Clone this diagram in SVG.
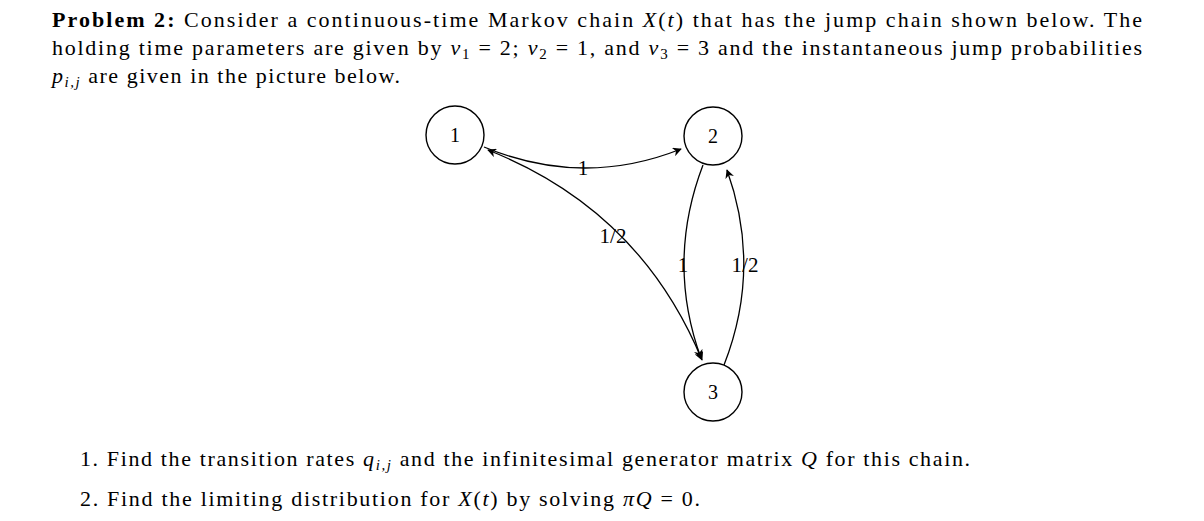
<svg xmlns="http://www.w3.org/2000/svg" width="1204" height="521" viewBox="0 0 1204 521">
<defs>
<marker id="ah" viewBox="0 0 10 10" refX="9" refY="5" markerWidth="9" markerHeight="9" orient="auto-start-reverse" markerUnits="userSpaceOnUse">
<path d="M0,0 L10,5 L0,10 L3,5 Z" fill="#000"/>
</marker>
</defs>
<style>
text{font-family:"Liberation Serif","DejaVu Serif",serif;fill:#000}
.t{font-size:22px}
.n{font-size:20px;text-anchor:middle}
.l{font-size:21px;text-anchor:middle}
.i{font-style:italic}
circle{fill:#fff;stroke:#000;stroke-width:1.4}
.e{fill:none;stroke:#000;stroke-width:1.3}
</style>
<rect width="1204" height="521" fill="#fff"/>
<text class="t" x="52" y="27" textLength="1090" lengthAdjust="spacing"><tspan font-weight="bold">Problem 2:</tspan> Consider a continuous-time Markov chain <tspan class="i">X</tspan>(<tspan class="i">t</tspan>) that has the jump chain shown below. The</text>
<text class="t" x="52" y="55" textLength="1090" lengthAdjust="spacing">holding time parameters are given by <tspan class="i">v</tspan><tspan font-size="15" dy="4">1</tspan><tspan dy="-4"> = 2; </tspan><tspan class="i">v</tspan><tspan font-size="15" dy="4">2</tspan><tspan dy="-4"> = 1, and </tspan><tspan class="i">v</tspan><tspan font-size="15" dy="4">3</tspan><tspan dy="-4"> = 3 and the instantaneous jump probabilities</tspan></text>
<text class="t" x="52" y="83" textLength="348" lengthAdjust="spacing"><tspan class="i">p</tspan><tspan class="i" font-size="15" dy="4">i,j</tspan><tspan dy="-4"> are given in the picture below.</tspan></text>
<g id="edges">
<path class="e" d="M484,147 Q583,188 681,149" marker-end="url(#ah)"/>
<path class="e" d="M488,150 Q640,210 702,360" marker-start="url(#ah)" marker-end="url(#ah)"/>
<path class="e" d="M703,165 Q666,262 701,358" marker-end="url(#ah)"/>
<path class="e" d="M724,365 Q762,268 727,170" marker-end="url(#ah)"/>
<text class="l" x="583" y="175">1</text>
<text class="l" x="613" y="243">1/2</text>
<text class="l" x="683" y="272">1</text>
<text class="l" x="745" y="272">1/2</text>
</g>
<g id="node1"><circle cx="455" cy="135" r="29"/><text class="n" x="455" y="142">1</text></g>
<g id="node2"><circle cx="713" cy="136" r="29"/><text class="n" x="713" y="143">2</text></g>
<g id="node3"><circle cx="713" cy="392" r="29"/><text class="n" x="713" y="399">3</text></g>
<text class="t" x="80" y="466" textLength="890" lengthAdjust="spacing">1.  Find the transition rates <tspan class="i">q</tspan><tspan class="i" font-size="15" dy="4">i,j</tspan><tspan dy="-4"> and the infinitesimal generator matrix </tspan><tspan class="i">Q</tspan> for this chain.</text>
<text class="t" x="80" y="506" textLength="620" lengthAdjust="spacing">2.  Find the limiting distribution for <tspan class="i">X</tspan>(<tspan class="i">t</tspan>) by solving <tspan class="i">πQ</tspan> = 0.</text>
</svg>
